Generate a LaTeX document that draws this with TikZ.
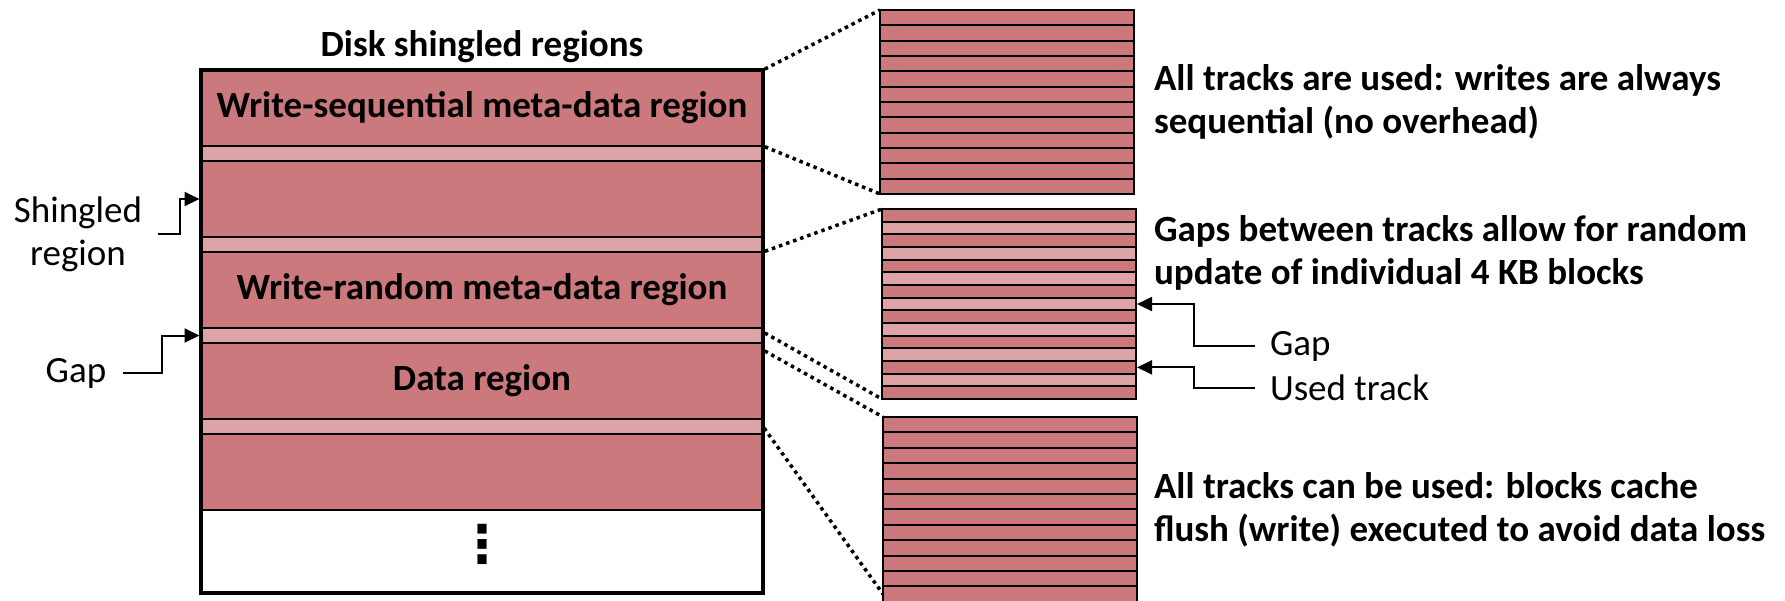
\documentclass[tikz,border=0pt]{standalone}
\usepackage{fontspec}
\setmainfont{Carlito}
\newfontfamily\symfont{DejaVu Sans}
\usetikzlibrary{fit, arrows.meta, positioning}

\definecolor{trackred}{RGB}{204,121,125}
\definecolor{gapred}{RGB}{221,164,168}

\begin{document}
\begin{tikzpicture}[> = {Triangle[length=15pt, width=14pt]}, % arrow head style
                x = 1pt, y = -1pt, % one unit per pixel, y grows downwards
                node distance = 0pt, % regions sit on each other
                line width = 2pt % line style
            ]

            \tikzstyle{every node}=[inner sep = 0pt, outer sep = 0pt]
            \tikzstyle{region}=[draw, fill = trackred, minimum width = 562pt,
            minimum height = 76pt, font = \fontsize{37}{43}\selectfont\bfseries]
            \tikzstyle{gapband}=[region, fill = gapred, minimum height = 15pt]
            \tikzstyle{track}=[draw, fill = trackred, minimum width = 254pt,
            anchor = north west]
            \tikzstyle{gaptrack}=[track, fill = gapred]
            \tikzstyle{frame}=[draw, line width = 2.5pt, inner sep = 0pt]
            \tikzstyle{note}=[align = left, anchor = west,
            font = \fontsize{37}{43}\selectfont\bfseries]
            \tikzstyle{sidetag}=[align = center, font = \fontsize{37}{43}\selectfont]
            \tikzstyle{zoomline}=[line width = 3.5pt, dash pattern = on 3.5pt off 4pt,
            shorten < = 2pt]

            \useasboundingbox (0,0) rectangle (1785,600);

            % disk with its shingled regions
            \node (seq) [region, anchor = north west] at (201,70)
            {Write-sequential meta-data region};
            \node (gapA) [gapband, below = of seq] {};
            \node (shingled) [region, below = of gapA] {};
            \node (gapB) [gapband, below = of shingled] {};
            \node (rand) [region, below = of gapB] {Write-random meta-data region};
            \node (gapC) [gapband, below = of rand] {};
            \node (data) [region, below = of gapC] {Data region};
            \node (gapD) [gapband, below = of data] {};
            \node (next) [region, below = of gapD] {};
            \node (more) [region, fill = white, minimum height = 83pt,
            below = of next] {};
            \node (dots) [font = \fontsize{52}{52}\symfont\bfseries]
            at ([yshift = 7.5pt]more.center) {⋮};
            \node (disk) [frame, line width = 3.3pt, fit = (seq)(more)] {};
            \node (title) [sidetag, font = \fontsize{37}{43}\selectfont\bfseries,
            anchor = base] at ([yshift = 14pt]disk.north) {Disk shingled regions};

            % tracks of each kind of region
            \foreach \i in {0,...,11}
            \node (sq\i) [track, minimum height = 15.33pt] at (880, {10+15.33*\i}) {};
            \node (seqtracks) [frame, fit = (sq0)(sq11)] {};

            \foreach \i in {0,2,...,14}
            \node (rt\i) [track, minimum height = 12.67pt] at (882, {209+12.67*\i}) {};
            \foreach \i in {1,3,...,13}
            \node (rt\i) [gaptrack, minimum height = 12.67pt] at (882, {209+12.67*\i}) {};
            \node (randtracks) [frame, fit = (rt0)(rt14)] {};

            \foreach \i in {0,...,11}
            \node (dt\i) [track, minimum height = 15.4pt] at (883, {417+15.4*\i}) {};
            \node (datatracks) [frame, fit = (dt0)(dt11)] {};

            % texts
            \node (seqnote) [note] at (1154,102)
            {All tracks are used: writes are always\\sequential (no overhead)};
            \node (randnote) [note] at (1154,253)
            {Gaps between tracks allow for random\\update of individual 4 KB blocks};
            \node (datanote) [note] at (1154,510)
            {All tracks can be used: blocks cache\\flush (write) executed to avoid data loss};

            \node (shinglbl) [sidetag] at (78,234) {Shingled\\region};
            \node (gaplbl) [sidetag] at (76,373) {Gap};
            \node (gaptag) [sidetag, anchor = west] at (1270,346) {Gap};
            \node (usedtag) [sidetag, anchor = west] at (1270,388) {Used track};

            % arrows
            \draw[->, shorten > = 1.5pt] ([xshift = 16pt]shinglbl.east) -- ++(22,0)
            |- (shingled.west);
            \draw[->, shorten > = 1.5pt] ([xshift = 17pt]gaplbl.east) -- ++(39,0)
            |- (gapC.west);
            \draw[->, shorten > = 1pt] ([xshift = -15pt]gaptag.west) -- ++(-61,0)
            |- (rt7.east);
            \draw[->, shorten > = 1pt] ([xshift = -15pt]usedtag.west) -- ++(-61,0)
            |- (rt12.east);

            % zoom lines
            \draw[zoomline] (seq.north east) -- (seqtracks.north west);
            \draw[zoomline] (seq.south east) -- (seqtracks.south west);
            \draw[zoomline] (gapB.south east) -- (randtracks.north west);
            \draw[zoomline] ([yshift = -4pt]gapC.north east) -- (randtracks.south west);
            \draw[zoomline] ([yshift = -7pt]gapC.south east) -- (datatracks.north west);
            \draw[zoomline] (gapD.east) -- (dt11.west);
        \end{tikzpicture}
\end{document}
